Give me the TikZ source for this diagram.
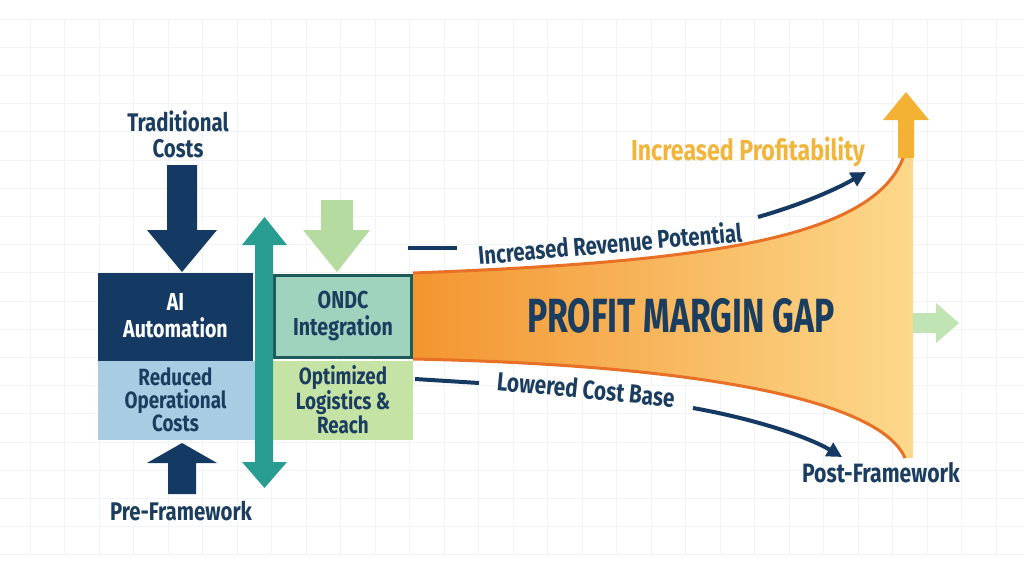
\documentclass[tikz,border=0pt]{standalone}
\usepackage{fontspec}
\setmainfont{Fira Sans}[FakeStretch=0.8]
\usetikzlibrary{arrows.meta}
\definecolor{navy}{HTML}{143A63}
\definecolor{txtnavy}{HTML}{1B3D5F}
\definecolor{lblue}{HTML}{A8CDE3}
\definecolor{teal}{HTML}{2A9D93}
\definecolor{ondcfill}{HTML}{9FD3BD}
\definecolor{ondcline}{HTML}{1E5A5A}
\definecolor{optfill}{HTML}{C6E3A6}
\definecolor{lgreen}{HTML}{B5DBA0}
\definecolor{rgreen}{HTML}{C0E4B4}
\definecolor{yel}{HTML}{F3B233}
\definecolor{yeltxt}{HTML}{F2B53C}
\definecolor{funL}{HTML}{F3952F}
\definecolor{funR}{HTML}{FCD98C}
\definecolor{funline}{HTML}{E86F26}
\definecolor{gridc}{HTML}{F0F4F6}
\begin{document}
\begin{tikzpicture}[x=1pt,y=-1pt,
  gridline/.style={draw=gridc,line width=0.8pt},
  lbl/.style={align=center,text=txtnavy,font=\fontsize{25.5}{26}\selectfont\bfseries,inner sep=0pt},
  boxtxt/.style={align=center,inner sep=0pt,font=\fontsize{24.5}{27}\selectfont\bfseries},
  box/.style={rectangle,inner sep=0pt},
  curvearrow/.style={draw=navy,line width=4pt,-{Triangle[length=15pt,width=15pt]}},
  dashline/.style={draw=navy,line width=4pt}]
\useasboundingbox (0,0) rectangle (1024,576);
\fill[white] (0,0) rectangle (1024,576);
% grid
\foreach \k in {0,...,29} \draw[gridline] ({30+34.5*\k},19) -- ({30+34.5*\k},554);
\foreach \k in {0,...,19} \draw[gridline] (0,{19+28.2*\k}) -- (1024,{19+28.2*\k});

% funnel
\shade[left color=funL,right color=funR]
  (413,273) .. controls (700,262) and (880,240) .. (905,152) -- (913,150) -- (913,458) -- (905,458)
  .. controls (880,400) and (700,365) .. (413,359) -- cycle;
\draw[funline,line width=3pt] (413,273) .. controls (700,262) and (880,240) .. (905,152);
\draw[funline,line width=3pt] (905,458) .. controls (880,400) and (700,365) .. (413,359);

% yellow up arrow
\fill[yel] (898,158) -- (898,120) -- (883,120) -- (906,92) -- (929,120) -- (914,120) -- (914,158) -- cycle;
% right green arrow
\fill[rgreen] (913,313) -- (936,313) -- (936,303) -- (959,323) -- (936,343) -- (936,333) -- (913,333) -- cycle;

% boxes
\node[box,fill=navy,minimum width=155pt,minimum height=88pt] (ai) at (175.5,317) {};
\node[boxtxt,text=white] (aitxt) at (175.5,316) {AI\\Automation};
\node[box,fill=lblue,minimum width=157pt,minimum height=79pt] (red) at (176.5,400.5) {};
\node[boxtxt,text=txtnavy,font=\fontsize{23.5}{23}\selectfont\bfseries] (redtxt) at (175.5,400) {Reduced\\Operational\\Costs};
\node[box,fill=ondcfill,draw=ondcline,line width=3pt,minimum width=137pt,minimum height=82pt] (ondc) at (343,316.5) {};
\node[boxtxt,text=txtnavy] (ondctxt) at (343,316) {ONDC\\Integration};
\node[box,fill=optfill,minimum width=140pt,minimum height=79pt] (opt) at (343,400.5) {};
\node[boxtxt,text=txtnavy,font=\fontsize{23.5}{23}\selectfont\bfseries] (opttxt) at (343,400) {Optimized\\Logistics \&\\Reach};

% navy down arrow
\fill[navy] (167,165) -- (197,165) -- (197,230) -- (217,230) -- (182,272) -- (147,230) -- (167,230) -- cycle;
% navy up arrow
\fill[navy] (168,494) -- (196,494) -- (196,463) -- (217,463) -- (182,443) -- (147,463) -- (168,463) -- cycle;
% green down arrow
\fill[lgreen] (321,200) -- (353,200) -- (353,230) -- (370,230) -- (337,272) -- (303,230) -- (321,230) -- cycle;
% teal double arrow
\fill[teal] (255,245) -- (242,245) -- (264.5,217) -- (287,245) -- (273,245) -- (273,462) -- (287,462) -- (264.5,488) -- (242,462) -- (255,462) -- cycle;

% labels
\node[lbl] (trad) at (178,134) {Traditional\\Costs};
\node[lbl] (pre) at (181,511) {Pre-Framework};
\node[lbl,font=\fontsize{26.5}{28}\selectfont\bfseries] (post) at (881,473) {Post-Framework};
\node[lbl,text=yeltxt,font=\fontsize{29}{30}\selectfont\bfseries] (prof) at (748,152) {Increased Profitability};
\node[lbl,font=\fontsize{48}{50}\selectfont\bfseries] (gap) at (681,316) {\scalebox{0.88}[1]{PROFIT MARGIN GAP}};
\node[lbl,rotate=5,font=\fontsize{25.5}{26}\selectfont\bfseries] (rev) at (610,243) {Increased Revenue Potential};
\node[lbl,rotate=-5.5,font=\fontsize{26}{26}\selectfont\bfseries] (low) at (586,389) {Lowered Cost Base};

% connectors
\coordinate (revA) at (408,248);
\coordinate (revB) at (457,248);
\draw[dashline] (revA) -- (revB);
\coordinate (lowA) at (415,379);
\coordinate (lowB) at (479,383);
\draw[dashline] (lowA) -- (lowB);
\coordinate (upS) at (758,217);
\coordinate (upE) at (866,172);
\draw[curvearrow] (upS) .. controls (800,205) and (835,190) .. (upE);
\coordinate (dnS) at (693,408);
\coordinate (dnE) at (842,457);
\draw[curvearrow] (dnS) .. controls (760,420) and (810,438) .. (dnE);
\end{tikzpicture}
\end{document}
